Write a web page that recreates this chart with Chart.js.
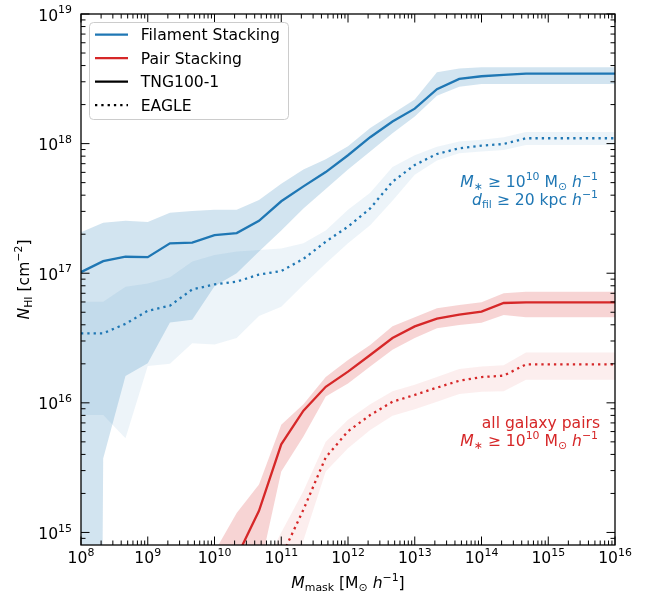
<!DOCTYPE html>
<html>
<head>
<meta charset="utf-8">
<script src="https://cdn.jsdelivr.net/npm/chart.js@4.4.0/dist/chart.umd.min.js"></script>
<style>
    html, body { margin: 0; padding: 0; background: #fff; }
    #wrap { width: 645px; height: 595px; }
</style>
</head>
<body>
<div id="wrap"><canvas id="chart" width="645" height="595"></canvas></div>
<script>
// mask mass bins (M_sun / h), 3 per decade
const maskMass = [1e8, 2.15e8, 4.64e8, 1e9, 2.15e9, 4.64e9, 1e10, 2.15e10, 4.64e10,
    1e11, 2.15e11, 4.64e11, 1e12, 2.15e12, 4.64e12, 1e13, 2.15e13, 4.64e13,
    1e14, 2.15e14, 4.64e14, 1e15, 2.15e15, 4.64e15, 1e16];

// Filament stacking, TNG100-1 (median + band)
const filTngMedian = [1.02e17, 1.24e17, 1.34e17, 1.33e17, 1.70e17, 1.72e17, 1.97e17, 2.04e17, 2.54e17,
    3.59e17, 4.68e17, 6.03e17, 8.13e17, 1.12e18, 1.48e18, 1.86e18, 2.63e18, 3.16e18,
    3.31e18, 3.39e18, 3.47e18, 3.47e18, 3.47e18, 3.47e18, 3.47e18];
const filTngHigh = [2.07e17, 2.45e17, 2.54e17, 2.48e17, 2.93e17, 3.02e17, 3.09e17, 3.09e17, 3.67e17,
    4.90e17, 6.31e17, 7.59e17, 9.55e17, 1.32e18, 1.70e18, 2.19e18, 3.55e18, 3.80e18,
    3.89e18, 3.89e18, 3.89e18, 3.89e18, 3.89e18, 3.89e18, 3.89e18];
// first bin is ~0 (runs off the bottom of the plot)
const filTngLow = [1e-10, 3.72e15, 1.61e16, 2.02e16, 4.17e16, 4.37e16, 7.94e16, 1.00e17, 1.47e17,
    2.14e17, 3.16e17, 4.47e17, 6.31e17, 8.71e17, 1.20e18, 1.62e18, 2.34e18, 2.75e18,
    2.88e18, 2.88e18, 2.88e18, 2.88e18, 2.88e18, 2.88e18, 2.88e18];

// Filament stacking, EAGLE
const filEagleMedian = [3.44e16, 3.44e16, 4.07e16, 5.13e16, 5.62e16, 7.50e16, 8.20e16, 8.61e16, 9.77e16,
    1.04e17, 1.29e17, 1.75e17, 2.29e17, 3.16e17, 5.08e17, 6.84e17, 8.32e17, 9.20e17,
    9.64e17, 9.93e17, 1.10e18, 1.10e18, 1.10e18, 1.10e18, 1.10e18];
const filEagleHigh = [6.03e16, 6.03e16, 7.87e16, 8.32e16, 9.29e16, 1.23e17, 1.38e17, 1.47e17, 1.51e17,
    1.55e17, 1.70e17, 2.14e17, 3.09e17, 4.17e17, 6.61e17, 8.13e17, 9.46e17, 1.04e18,
    1.07e18, 1.12e18, 1.23e18, 1.23e18, 1.23e18, 1.23e18, 1.23e18];
const filEagleLow = [8.04e15, 8.04e15, 5.32e15, 1.92e16, 2.00e16, 2.88e16, 2.82e16, 3.16e16, 4.68e16,
    5.50e16, 8.13e16, 1.19e17, 1.70e17, 2.34e17, 3.63e17, 5.75e17, 7.41e17, 8.41e17,
    8.71e17, 8.91e17, 9.77e17, 9.77e17, 9.77e17, 9.77e17, 9.77e17];

// Pair stacking, TNG100-1 (low-mass bins lie below the plotted range)
const pairTngMedian = [1e10, 1e10, 1e10, 1e10, 1e10, 1e10, 1.0e14, 6.46e14, 1.47e15,
    4.79e15, 8.71e15, 1.33e16, 1.74e16, 2.34e16, 3.16e16, 3.89e16, 4.47e16, 4.79e16,
    5.05e16, 5.89e16, 5.96e16, 5.96e16, 5.96e16, 5.96e16, 5.96e16];
const pairTngHigh = [1e10, 1e10, 1e10, 1e10, 1e10, 1e10, 7.08e14, 1.41e15, 2.34e15,
    6.76e15, 9.77e15, 1.58e16, 2.14e16, 2.79e16, 3.89e16, 4.57e16, 5.37e16, 5.69e16,
    5.96e16, 7.00e16, 7.19e16, 7.19e16, 7.19e16, 7.19e16, 7.19e16];
const pairTngLow = [1e10, 1e10, 1e10, 1e10, 1e10, 1e10, 1e10, 1.6e14, 4.9e14,
    2.95e15, 5.50e15, 1.12e16, 1.41e16, 1.91e16, 2.57e16, 3.16e16, 3.76e16, 3.98e16,
    4.15e16, 4.75e16, 4.57e16, 4.57e16, 4.57e16, 4.57e16, 4.57e16];

// Pair stacking, EAGLE
const pairEagleMedian = [1e10, 1e10, 1e10, 1e10, 1e10, 1e10, 1e10, 1e10, 1.0e14,
    6.46e14, 1.50e15, 3.80e15, 6.03e15, 8.05e15, 1.02e16, 1.15e16, 1.31e16, 1.48e16,
    1.58e16, 1.62e16, 1.98e16, 1.98e16, 1.98e16, 1.98e16, 1.98e16];
const pairEagleHigh = [1e10, 1e10, 1e10, 1e10, 1e10, 1e10, 1e10, 1e10, 4.68e14,
    1.0e15, 2.09e15, 5.01e15, 7.41e15, 9.77e15, 1.23e16, 1.38e16, 1.58e16, 1.82e16,
    1.91e16, 1.95e16, 2.45e16, 2.45e16, 2.45e16, 2.45e16, 2.45e16];
const pairEagleLow = [1e10, 1e10, 1e10, 1e10, 1e10, 1e10, 1e10, 1e10, 1e10,
    1.0e14, 8.71e14, 2.95e15, 4.47e15, 6.17e15, 7.94e15, 8.91e15, 1.02e16, 1.17e16,
    1.22e16, 1.23e16, 1.51e16, 1.51e16, 1.51e16, 1.51e16, 1.51e16];

// axis ticks
const xMajorTicks = [1e8, 1e9, 1e10, 1e11, 1e12, 1e13, 1e14, 1e15, 1e16];
const xTickLabels = ["8", "9", "10", "11", "12", "13", "14", "15", "16"];
const yMajorTicks = [1e15, 1e16, 1e17, 1e18, 1e19];
const yTickLabels = ["15", "16", "17", "18", "19"];

const blue = "#1f77b4";
const red = "#d62728";
const SIZE = 15.6;
const FONT = "'DejaVu Sans', sans-serif";

function pts(arr) {
    return arr.map((v, i) => ({ x: maskMass[i], y: v }));
}

function rgba(hex, a) {
    const n = parseInt(hex.slice(1), 16);
    return `rgba(${(n >> 16) & 255},${(n >> 8) & 255},${n & 255},${a})`;
}

function band(hi, lo, color, alpha) {
    return [
        { data: pts(hi), borderWidth: 0, borderColor: "transparent", pointRadius: 0,
          fill: "+1", backgroundColor: rgba(color, alpha), order: 2 },
        { data: pts(lo), borderWidth: 0, borderColor: "transparent", pointRadius: 0,
          fill: false, order: 2 }
    ];
}

function line(arr, color, dotted) {
    return { data: pts(arr), borderColor: color, borderWidth: 2.3, pointRadius: 0,
             fill: false, tension: 0, borderDash: dotted ? [2.3, 4.0] : [], order: 1 };
}

// small mathtext-like renderer
function segFont(s) {
    const sz = (s.sub || s.sup) ? SIZE * 0.7 : SIZE;
    return (s.it ? "italic " : "") + sz + "px " + FONT;
}
function richWidth(ctx, segs) {
    let w = 0;
    segs.forEach(s => { ctx.font = segFont(s); w += ctx.measureText(s.t).width; });
    return w;
}
function drawRich(ctx, segs, x, y, align) {
    const w = richWidth(ctx, segs);
    let cx = align === "right" ? x - w : align === "center" ? x - w / 2 : x;
    ctx.textAlign = "left";
    ctx.textBaseline = "alphabetic";
    segs.forEach(s => {
        ctx.font = segFont(s);
        const dy = s.sup ? -SIZE * 0.47 : s.sub ? SIZE * 0.22 : 0;
        ctx.fillText(s.t, cx, y + dy);
        cx += ctx.measureText(s.t).width;
    });
}

const axesPlugin = {
    id: "axesPlugin",
    afterDraw(chart) {
        const { ctx, chartArea: a, scales: { x, y } } = chart;
        ctx.save();

        // frame
        ctx.strokeStyle = "#000";
        ctx.lineWidth = 1.3;
        ctx.strokeRect(a.left, a.top, a.right - a.left, a.bottom - a.top);

        // ticks, pointing inwards on all four sides
        ctx.lineWidth = 1;
        function xTick(v, len) {
            const px = x.getPixelForValue(v);
            ctx.beginPath();
            ctx.moveTo(px, a.bottom); ctx.lineTo(px, a.bottom - len);
            ctx.moveTo(px, a.top); ctx.lineTo(px, a.top + len);
            ctx.stroke();
        }
        function yTick(v, len) {
            const py = y.getPixelForValue(v);
            ctx.beginPath();
            ctx.moveTo(a.left, py); ctx.lineTo(a.left + len, py);
            ctx.moveTo(a.right, py); ctx.lineTo(a.right - len, py);
            ctx.stroke();
        }
        xMajorTicks.forEach(v => {
            xTick(v, 8.5);
            for (let m = 2; m < 10; m++) if (v * m < x.max) xTick(v * m, 4.5);
        });
        [1e14].concat(yMajorTicks).forEach(v => {
            if (v >= y.min) yTick(v, 8.5);
            for (let m = 2; m < 10; m++) {
                const t = v * m;
                if (t > y.min * 1.02 && t < y.max) yTick(t, 4.5);
            }
        });

        // tick labels
        ctx.fillStyle = "#000";
        xMajorTicks.forEach((v, i) => {
            drawRich(ctx, [{ t: "10" }, { t: xTickLabels[i], sup: true }],
                     x.getPixelForValue(v), a.bottom + 18, "center");
        });
        yMajorTicks.forEach((v, i) => {
            drawRich(ctx, [{ t: "10" }, { t: yTickLabels[i], sup: true }],
                     a.left - 9, y.getPixelForValue(v) + 6.5, "right");
        });

        // axis labels
        drawRich(ctx, [{ t: "M", it: true }, { t: "mask", sub: true }, { t: " [M" },
                       { t: "\u2299", sub: true }, { t: " " }, { t: "h", it: true },
                       { t: "\u22121", sup: true }, { t: "]" }],
                 (a.left + a.right) / 2, 588, "center");
        ctx.save();
        ctx.translate(29, (a.top + a.bottom) / 2);
        ctx.rotate(-Math.PI / 2);
        drawRich(ctx, [{ t: "N", it: true }, { t: "HI", sub: true }, { t: " [cm" },
                       { t: "\u22122", sup: true }, { t: "]" }], 0, 0, "center");
        ctx.restore();

        // annotations
        const mStar = [{ t: "M", it: true }, { t: "\u2217", sub: true }, { t: " \u2265 10" },
                       { t: "10", sup: true }, { t: " M" }, { t: "\u2299", sub: true },
                       { t: " " }, { t: "h", it: true }, { t: "\u22121", sup: true }];
        ctx.fillStyle = blue;
        drawRich(ctx, mStar, 598, 187, "right");
        drawRich(ctx, [{ t: "d", it: true }, { t: "fil", sub: true }, { t: " \u2265 20 kpc " },
                       { t: "h", it: true }, { t: "\u22121", sup: true }], 598, 205, "right");
        ctx.fillStyle = red;
        drawRich(ctx, [{ t: "all galaxy pairs" }], 600, 428, "right");
        drawRich(ctx, mStar, 598, 446, "right");

        // legend
        const lx = 89.5, ly = 22.5, lw = 199, lh = 97, r = 4;
        ctx.beginPath();
        ctx.moveTo(lx + r, ly);
        ctx.arcTo(lx + lw, ly, lx + lw, ly + lh, r);
        ctx.arcTo(lx + lw, ly + lh, lx, ly + lh, r);
        ctx.arcTo(lx, ly + lh, lx, ly, r);
        ctx.arcTo(lx, ly, lx + lw, ly, r);
        ctx.closePath();
        ctx.fillStyle = "rgba(255,255,255,0.8)";
        ctx.fill();
        ctx.strokeStyle = "#cccccc";
        ctx.lineWidth = 1;
        ctx.stroke();

        const entries = [
            { label: "Filament Stacking", color: blue, dash: [] },
            { label: "Pair Stacking", color: red, dash: [] },
            { label: "TNG100-1", color: "#000", dash: [] },
            { label: "EAGLE", color: "#000", dash: [2.3, 4.0] }
        ];
        entries.forEach((e, i) => {
            const cy = 34.7 + i * 23.5;
            ctx.beginPath();
            ctx.setLineDash(e.dash);
            ctx.strokeStyle = e.color;
            ctx.lineWidth = 2.3;
            ctx.moveTo(95, cy);
            ctx.lineTo(128, cy);
            ctx.stroke();
            ctx.setLineDash([]);
            ctx.fillStyle = "#000";
            drawRich(ctx, [{ t: e.label }], 140.7, cy + 5.6, "left");
        });

        ctx.restore();
    }
};

const datasets = [].concat(
    band(filTngHigh, filTngLow, blue, 0.2),
    band(filEagleHigh, filEagleLow, blue, 0.08),
    band(pairTngHigh, pairTngLow, red, 0.2),
    band(pairEagleHigh, pairEagleLow, red, 0.08),
    [line(filTngMedian, blue, false),
     line(filEagleMedian, blue, true),
     line(pairTngMedian, red, false),
     line(pairEagleMedian, red, true)]
);

new Chart(document.getElementById("chart"), {
    type: "line",
    data: { datasets: datasets },
    options: {
        responsive: false,
        animation: false,
        devicePixelRatio: 1,
        layout: { autoPadding: false, padding: { left: 81, right: 30, top: 14, bottom: 50 } },
        plugins: { legend: { display: false }, tooltip: { enabled: false } },
        elements: { line: { tension: 0 } },
        scales: {
            x: { type: "logarithmic", min: 1e8, max: 1e16, display: false },
            y: { type: "logarithmic", min: 8.0e14, max: 1e19, display: false }
        }
    },
    plugins: [axesPlugin]
});
</script>
</body>
</html>
